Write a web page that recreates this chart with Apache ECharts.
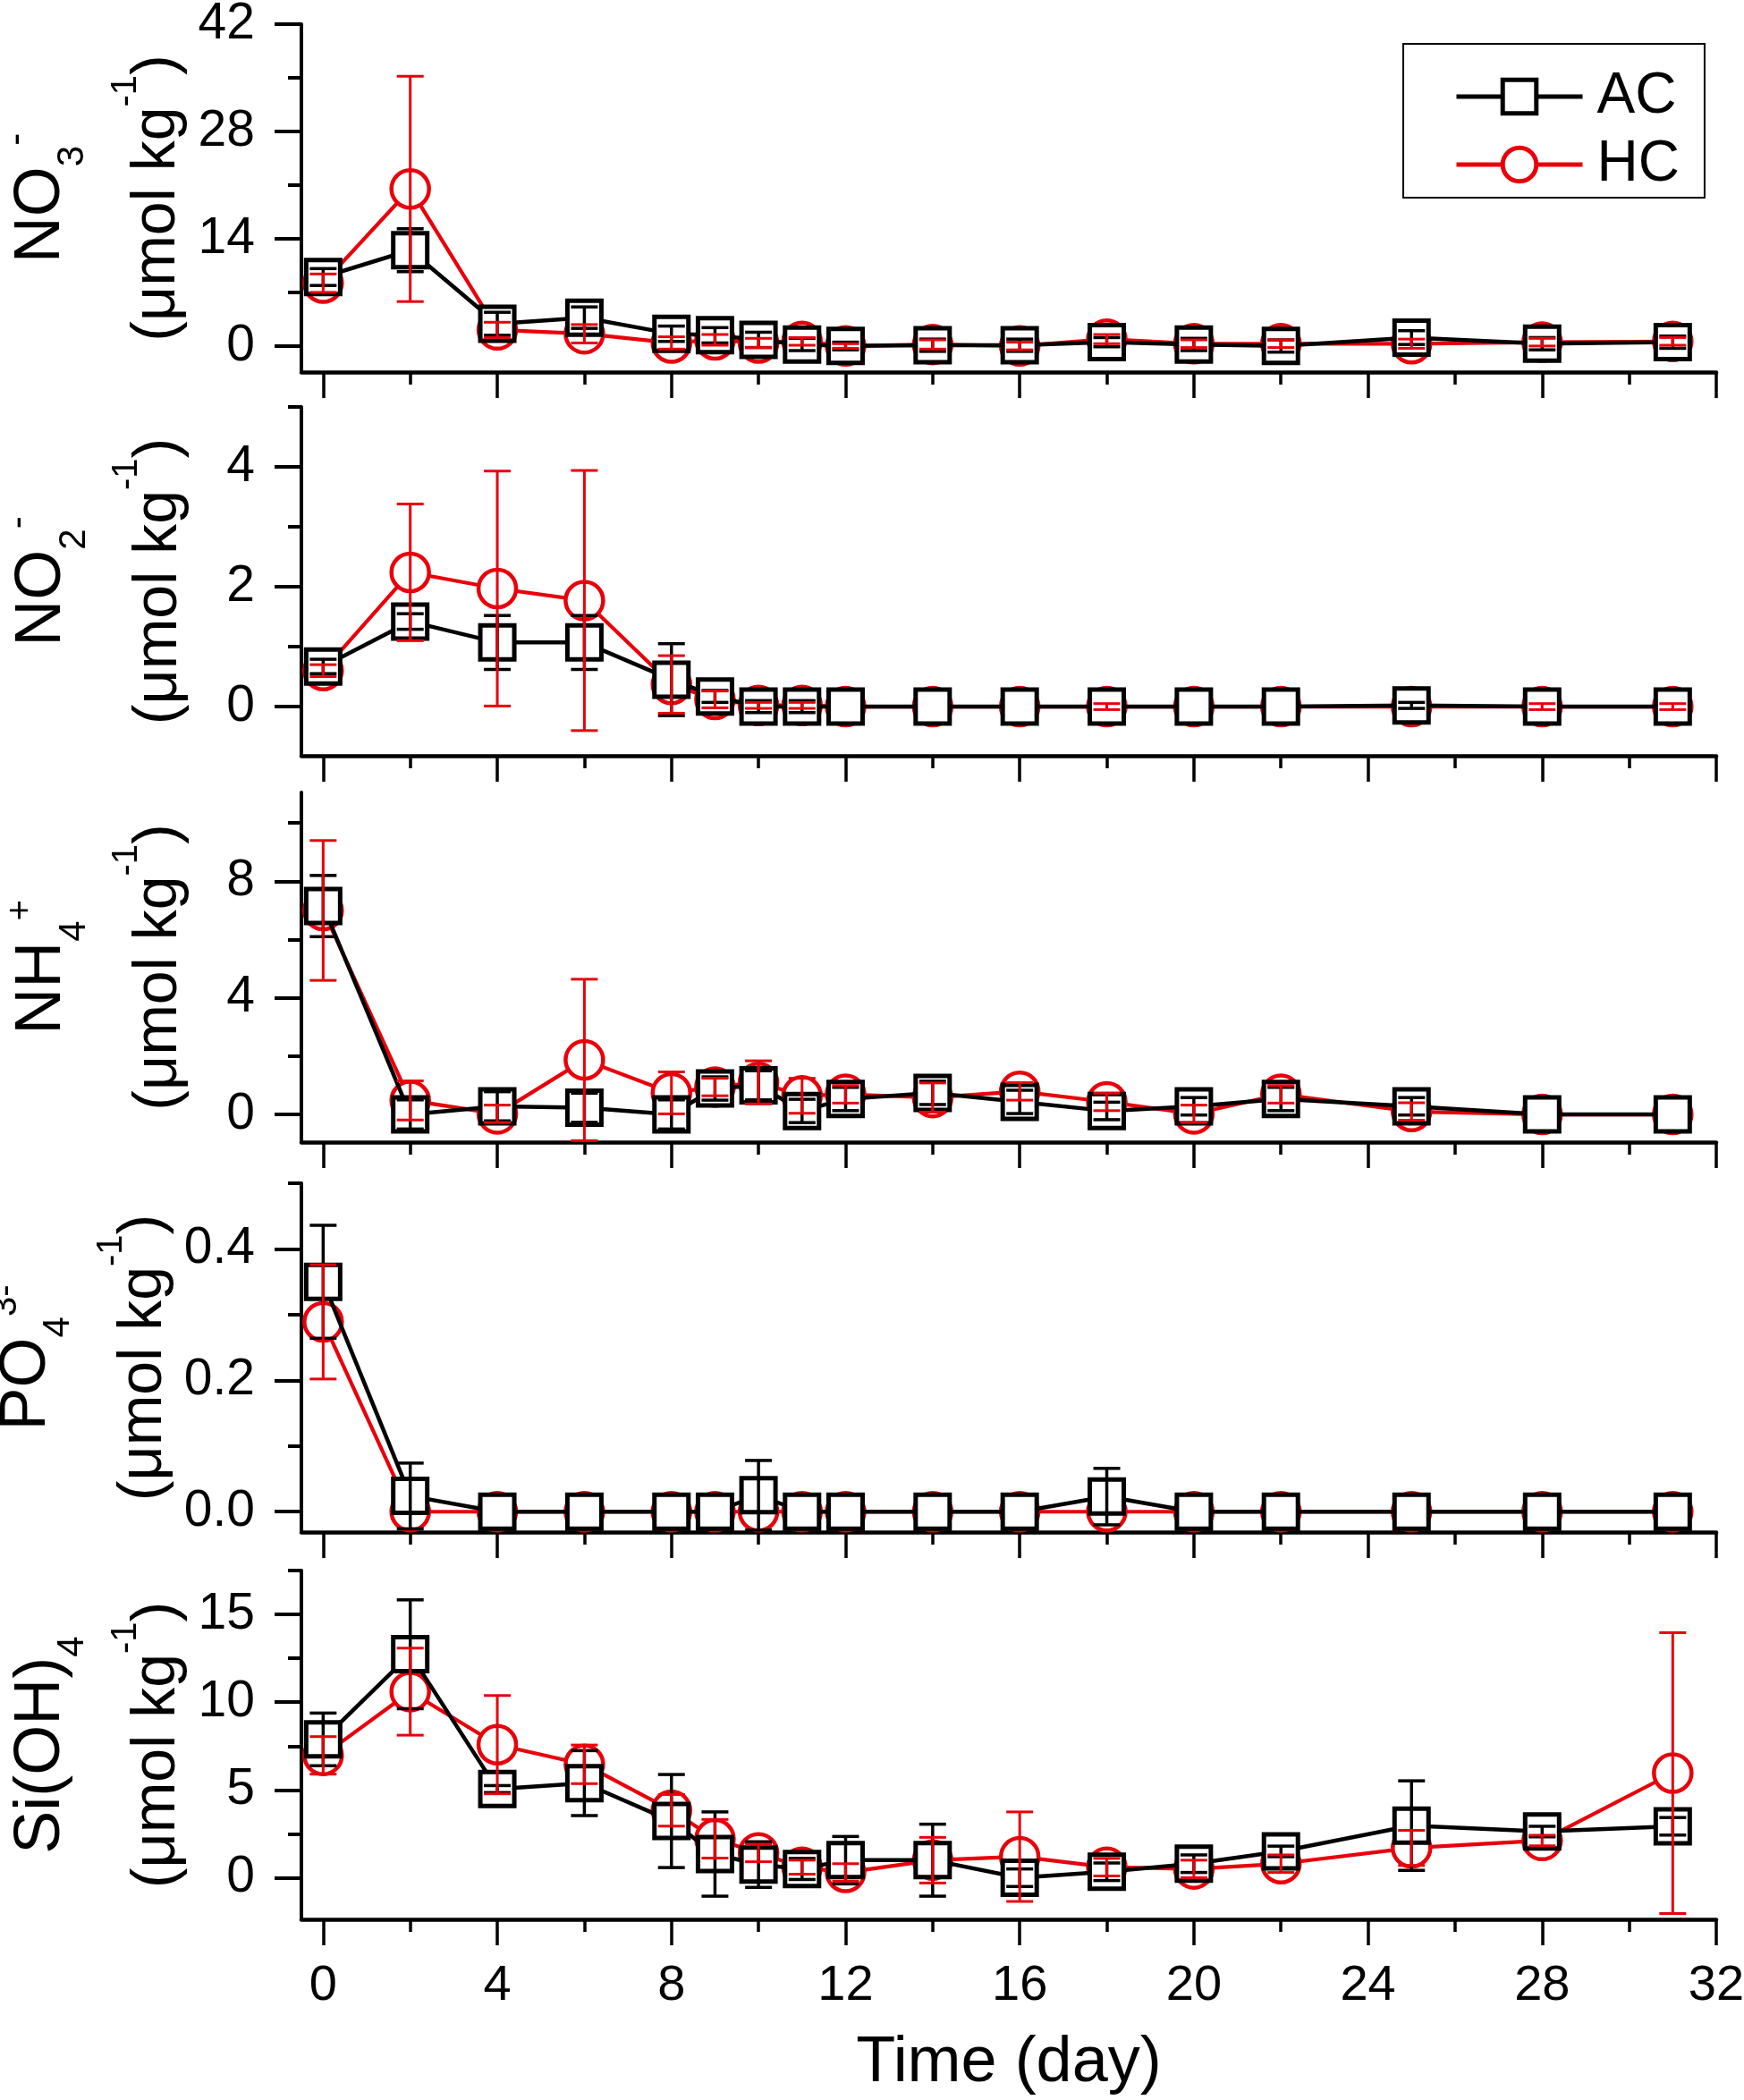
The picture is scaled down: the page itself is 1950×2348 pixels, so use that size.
<!DOCTYPE html>
<html>
<head>
<meta charset="utf-8">
<script src="https://cdn.jsdelivr.net/npm/echarts@6/dist/echarts.min.js"></script>
<style>
html, body { margin: 0; padding: 0; background: #fff; }
#main { width: 1950px; height: 2348px; }
</style>
</head>
<body>
<div id="main"></div>
<script>
var chart = echarts.init(document.getElementById('main'));

// sampling days
var days = [0, 2, 4, 6, 8, 9, 10, 11, 12, 14, 16, 18, 20, 22, 25, 28, 31];

// NO3- (umol/kg)
var no3AC   = [9.0, 12.5, 2.9, 3.7, 1.6, 1.4, 0.8, 0.2, 0.0, 0.1, 0.1, 0.5, 0.2, 0.0, 1.1, 0.3, 0.5];
var no3ACsd = [1.1, 2.8, 1.5, 1.4, 1.0, 1.0, 1.0, 0.8, 0.5, 0.8, 0.8, 0.6, 0.8, 0.8, 0.9, 0.8, 0.8];
var no3HC   = [8.2, 20.5, 2.1, 1.6, 0.4, 0.8, 0.4, 0.6, 0.0, 0.2, 0.0, 0.9, 0.3, 0.3, 0.3, 0.5, 0.6];
var no3HCsd = [1.2, 14.7, 1.0, 1.2, 0.8, 0.7, 0.6, 0.5, 0.3, 0.6, 0.5, 0.6, 0.5, 0.5, 0.6, 0.5, 0.5];

// NO2-
var no2AC   = [0.67, 1.42, 1.07, 1.07, 0.45, 0.17, 0.0, 0.0, 0.0, 0.0, 0.0, 0.0, 0.0, 0.0, 0.02, 0.0, 0.0];
var no2ACsd = [0.12, 0.13, 0.45, 0.45, 0.6, 0.1, 0.1, 0.1, 0.0, 0.0, 0.0, 0.0, 0.0, 0.0, 0.05, 0.0, 0.0];
var no2HC   = [0.6, 2.24, 1.97, 1.77, 0.37, 0.12, 0.02, 0.02, 0.0, 0.0, 0.0, 0.0, 0.0, 0.0, 0.0, 0.0, 0.0];
var no2HCsd = [0.1, 1.14, 1.96, 2.17, 0.48, 0.14, 0.05, 0.05, 0.0, 0.0, 0.0, 0.05, 0.0, 0.0, 0.0, 0.05, 0.05];

// NH4+
var nh4AC   = [7.15, 0.0, 0.28, 0.23, 0.0, 0.89, 1.0, 0.12, 0.53, 0.74, 0.43, 0.12, 0.28, 0.53, 0.28, 0.0, 0.0];
var nh4ACsd = [1.05, 0.5, 0.5, 0.5, 0.5, 0.4, 0.5, 0.4, 0.4, 0.4, 0.4, 0.3, 0.3, 0.4, 0.3, 0.0, 0.0];
var nh4HC   = [7.0, 0.48, 0.02, 1.87, 0.74, 0.94, 1.1, 0.64, 0.69, 0.58, 0.79, 0.43, 0.02, 0.69, 0.1, 0.0, 0.0];
var nh4HCsd = [2.4, 0.67, 0.3, 2.77, 0.72, 0.3, 0.74, 0.6, 0.3, 0.5, 0.3, 0.3, 0.3, 0.3, 0.3, 0.0, 0.0];

// PO4 3-
var po4AC   = [0.35, 0.024, 0, 0, 0, 0, 0.025, 0, 0, 0, 0, 0.023, 0, 0, 0, 0, 0];
var po4ACsd = [0.086, 0.05, 0, 0, 0, 0, 0.053, 0, 0, 0, 0, 0.043, 0, 0, 0, 0, 0];
var po4HC   = [0.289, 0, 0, 0, 0, 0, 0, 0, 0, 0, 0, 0, 0, 0, 0, 0, 0];
var po4HCsd = [0.087, 0, 0, 0, 0, 0, 0, 0, 0, 0, 0, 0, 0, 0, 0, 0, 0];

// Si(OH)4
var siAC   = [7.88, 12.73, 5.05, 5.39, 3.23, 1.35, 0.75, 0.5, 1.0, 1.0, 0.0, 0.34, 0.8, 1.5, 2.97, 2.63, 2.93];
var siACsd = [1.5, 3.1, 0.2, 1.85, 2.65, 2.4, 1.3, 0.6, 1.35, 2.05, 0.5, 0.5, 0.5, 0.3, 2.55, 0.3, 0.5];
var siHC   = [6.97, 10.6, 7.58, 6.46, 3.84, 2.22, 1.41, 0.6, 0.3, 1.0, 1.2, 0.6, 0.5, 0.8, 1.7, 2.12, 5.96];
var siHCsd = [1.07, 2.48, 2.8, 1.1, 0.9, 1.1, 0.5, 0.4, 0.5, 1.3, 2.55, 0.5, 0.5, 0.5, 1.0, 0.3, 8.0];

// tick values
var xMajor = [0, 4, 8, 12, 16, 20, 24, 28, 32];
var xMinor = [2, 6, 10, 14, 18, 22, 26, 30];
var no3Ticks = [0, 14, 28, 42],   no3Minor = [7, 21, 35];
var no2Ticks = [0, 2, 4],         no2Minor = [1, 3, 5];
var nh4Ticks = [0, 4, 8],         nh4Minor = [2, 6, 10];
var po4Ticks = [0, 0.2, 0.4],     po4Minor = [0.1, 0.3, 0.5];
var siTicks  = [0, 5, 10, 15],    siMinor  = [2.5, 7.5, 12.5, 17.5];

var unitLine = '{u|(μmol kg}{q|-1}{u|)}';
var panels = [
    { label: '{n|NO}{b|3}{p|-}\n' + unitLine, ac: no3AC, acSd: no3ACsd, hc: no3HC, hcSd: no3HCsd, ticks: no3Ticks, minor: no3Minor, dec: 0 },
    { label: '{n|NO}{b|2}{p|-}\n' + unitLine, ac: no2AC, acSd: no2ACsd, hc: no2HC, hcSd: no2HCsd, ticks: no2Ticks, minor: no2Minor, dec: 0 },
    { label: '{n|NH}{b|4}{s|+}\n' + unitLine, ac: nh4AC, acSd: nh4ACsd, hc: nh4HC, hcSd: nh4HCsd, ticks: nh4Ticks, minor: nh4Minor, dec: 0 },
    { label: '{n|PO}{b|4}{s|3-}\n' + unitLine, ac: po4AC, acSd: po4ACsd, hc: po4HC, hcSd: po4HCsd, ticks: po4Ticks, minor: po4Minor, dec: 1 },
    { label: '{n|Si(OH)}{b|4}\n' + unitLine, ac: siAC, acSd: siACsd, hc: siHC, hcSd: siHCsd, ticks: siTicks, minor: siMinor, dec: 0 }
];

// layout of each panel (pixels) and axis extents
var layout = [
    { top: 27,   height: 389, min: -3.4,   max: 42 },
    { top: 455,  height: 390, min: -0.82,  max: 5 },
    { top: 886,  height: 391, min: -0.95,  max: 11.05 },
    { top: 1323, height: 390, min: -0.031, max: 0.5 },
    { top: 1756, height: 390, min: -2.37,  max: 17.5 }
];

var font = '"Liberation Sans", Arial, Helvetica, sans-serif';
var red = '#e8000b';

var nameRich = {
    n: { fontSize: 72, fontFamily: font, color: '#000', lineHeight: 126, verticalAlign: 'top', padding: [15, 0, 0, 0] },
    b: { fontSize: 42, fontFamily: font, color: '#000', lineHeight: 16, verticalAlign: 'top', padding: [66, 0, 0, 0] },
    p: { fontSize: 42, fontFamily: font, color: '#000', lineHeight: 16, verticalAlign: 'top', padding: [4, 0, 0, 0] },
    s: { fontSize: 40, fontFamily: font, color: '#000', lineHeight: 16, verticalAlign: 'top', padding: [8, 0, 0, 0] },
    u: { fontSize: 68, fontFamily: font, color: '#000', lineHeight: 100, verticalAlign: 'top', padding: [22, 0, 0, 0] },
    q: { fontSize: 40, fontFamily: font, color: '#000', lineHeight: 16, verticalAlign: 'top', padding: [0, 0, 0, 0] }
};

function errBar(color, width) {
    return function (params, api) {
        var x = api.value(0), m = api.value(1), s = api.value(2);
        if (!(s > 0)) {
            return;
        }
        var top = api.coord([x, m + s]);
        var bot = api.coord([x, m - s]);
        var hw = 15;
        var st = { stroke: color, lineWidth: width };
        return {
            type: 'group',
            children: [
                { type: 'line', shape: { x1: top[0], y1: top[1], x2: bot[0], y2: bot[1] }, style: st },
                { type: 'line', shape: { x1: top[0] - hw, y1: top[1], x2: top[0] + hw, y2: top[1] }, style: st },
                { type: 'line', shape: { x1: bot[0] - hw, y1: bot[1], x2: bot[0] + hw, y2: bot[1] }, style: st }
            ]
        };
    };
}

function pairs(a) {
    return days.map(function (d, k) { return [d, a[k]]; });
}
function triples(a, s) {
    return days.map(function (d, k) { return [d, a[k], s[k]]; });
}

var grids = [], xAxes = [], yAxes = [], series = [];

panels.forEach(function (p, i) {
    var L = layout[i];
    var last = i === panels.length - 1;
    grids.push({ left: 337, right: 31, top: L.top, height: L.height, containLabel: false, outerBoundsMode: 'none' });

    // x axis: major ticks (+ labels on the bottom panel)
    xAxes.push({
        type: 'value', gridIndex: i, min: -0.5, max: 32, position: 'bottom',
        axisLine: { onZero: false, lineStyle: { color: '#000', width: 4.5 } },
        axisTick: { customValues: xMajor, length: 29, lineStyle: { color: '#000', width: 3.5 } },
        axisLabel: {
            show: last, customValues: xMajor, margin: 47,
            fontSize: 56, fontFamily: font, color: '#000'
        },
        splitLine: { show: false },
        name: last ? 'Time (day)' : '',
        nameLocation: 'middle', nameGap: 125,
        nameTextStyle: { fontSize: 72, fontFamily: font, color: '#000' }
    });
    // x axis: minor ticks
    xAxes.push({
        type: 'value', gridIndex: i, min: -0.5, max: 32, position: 'bottom',
        axisLine: { show: false, onZero: false },
        axisTick: { customValues: xMinor, length: 14, lineStyle: { color: '#000', width: 3.5 } },
        axisLabel: { show: false },
        splitLine: { show: false }
    });

    // y axis: major ticks + labels + name
    yAxes.push({
        type: 'value', gridIndex: i, min: L.min, max: L.max, position: 'left',
        axisLine: { onZero: false, lineStyle: { color: '#000', width: 4 } },
        axisTick: { customValues: p.ticks, length: 30, lineStyle: { color: '#000', width: 4 } },
        axisLabel: {
            customValues: p.ticks, margin: 52,
            fontSize: 57, fontFamily: font, color: '#000',
            formatter: (function (dec) {
                return function (v) { return v.toFixed(dec); };
            })(p.dec)
        },
        splitLine: { show: false },
        name: p.label,
        nameLocation: 'middle', nameRotate: 90, nameGap: 115,
        nameTextStyle: { rich: nameRich, fontFamily: font, color: '#000' }
    });
    // y axis: minor ticks
    yAxes.push({
        type: 'value', gridIndex: i, min: L.min, max: L.max, position: 'left',
        axisLine: { show: false, onZero: false },
        axisTick: { customValues: p.minor, length: 15, lineStyle: { color: '#000', width: 4 } },
        axisLabel: { show: false },
        splitLine: { show: false }
    });

    series.push({
        type: 'line', name: 'HC', xAxisIndex: 2 * i, yAxisIndex: 2 * i,
        data: pairs(p.hc), symbol: 'circle', symbolSize: 42,
        itemStyle: { color: '#fff', borderColor: red, borderWidth: 4.5 },
        lineStyle: { color: red, width: 4.2 },
        z: 2
    });
    series.push({
        type: 'line', name: 'AC', xAxisIndex: 2 * i, yAxisIndex: 2 * i,
        data: pairs(p.ac), symbol: 'rect', symbolSize: 38,
        itemStyle: { color: '#fff', borderColor: '#000', borderWidth: 5 },
        lineStyle: { color: '#000', width: 4.5 },
        z: 3
    });
    series.push({
        type: 'custom', xAxisIndex: 2 * i, yAxisIndex: 2 * i, silent: true,
        data: triples(p.ac, p.acSd), renderItem: errBar('#000', 3.5), z: 5
    });
    series.push({
        type: 'custom', xAxisIndex: 2 * i, yAxisIndex: 2 * i, silent: true,
        data: triples(p.hc, p.hcSd), renderItem: errBar(red, 3), z: 6
    });
});

var option = {
    backgroundColor: '#fff',
    animation: false,
    legend: {
        data: ['AC', 'HC'],
        orient: 'vertical',
        left: 1569, top: 49,
        padding: [27, 28, 5, 57],
        itemGap: 12,
        itemWidth: 141, itemHeight: 47,
        borderColor: '#000', borderWidth: 2,
        selectedMode: false,
        lineStyle: { width: 5 },
        itemStyle: { borderWidth: 5 },
        textStyle: { fontSize: 64, lineHeight: 63, fontFamily: font, color: '#000', padding: [0, 0, 0, 11] }
    },
    grid: grids,
    xAxis: xAxes,
    yAxis: yAxes,
    series: series
};

chart.setOption(option);
</script>
</body>
</html>
